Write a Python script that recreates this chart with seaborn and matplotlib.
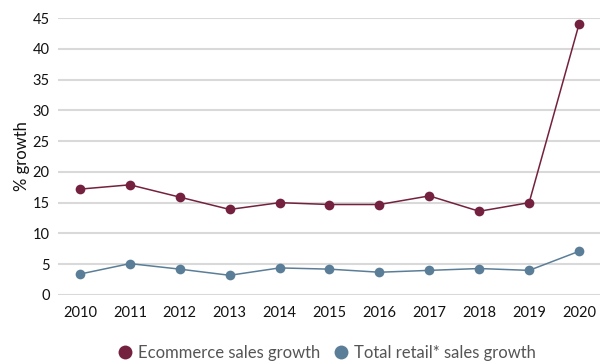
import seaborn as sns
import pandas as pd
import numpy as np
import matplotlib
import matplotlib.pyplot as plt

matplotlib.use('Agg')

sns.set_theme(style="white")
plt.rcParams['font.family'] = ['Lato', 'DejaVu Sans']

years = [2010, 2011, 2012, 2013, 2014, 2015, 2016, 2017, 2018, 2019, 2020]
ecommerce = [17.2, 17.9, 15.9, 13.9, 15.0, 14.7, 14.7, 16.1, 13.6, 15.0, 44.0]
retail = [3.4, 5.1, 4.2, 3.2, 4.4, 4.2, 3.7, 4.0, 4.3, 4.0, 7.1]
series_names = ["Ecommerce sales growth", "Total retail* sales growth"]
colors = ["#74213f", "#5b7e98"]
y_ticks = [0, 5, 10, 15, 20, 25, 30, 35, 40, 45]

df = pd.DataFrame({"Year": years * 2,
                   "Growth": ecommerce + retail,
                   "Series": [series_names[0]] * len(years) + [series_names[1]] * len(years)})

fig = plt.figure(figsize=(6, 3.62), dpi=100)
ax = fig.add_axes([58 / 600, 1 - 295 / 362, 542 / 600, 277 / 362])

sns.lineplot(data=df, x="Year", y="Growth", hue="Series",
             hue_order=series_names, palette=colors,
             marker="o", markersize=7, markeredgewidth=0,
             linewidth=1.1, ax=ax, zorder=3)

ax.set_xlim(2009.56, 2020.42)
ax.set_ylim(0, 45)
ax.set_xticks(years)
ax.set_yticks(y_ticks)
ax.tick_params(axis='both', length=0, labelsize=10.5, colors='#111111')
ax.tick_params(axis='x', pad=8)
ax.tick_params(axis='y', pad=6)
ax.yaxis.grid(True, color='#d9d9d9', linewidth=1.5, zorder=0)
ax.xaxis.grid(False)
for s in ax.spines.values():
    s.set_visible(False)
ax.set_xlabel("")
ax.set_ylabel("% growth", fontsize=12, color='#111111', labelpad=2)

handles, labels = ax.get_legend_handles_labels()
ax.get_legend().remove()
leg = fig.legend(handles, labels, loc='center', bbox_to_anchor=(0.545, 1 - 353 / 362),
                 ncol=2, frameon=False, fontsize=12, handlelength=0.8,
                 handletextpad=0.4, columnspacing=0.8, labelcolor='#555555')
for h in leg.legend_handles:
    h.set_linestyle('')
    h.set_markersize(10)

fig.savefig("out.png", dpi=100)
